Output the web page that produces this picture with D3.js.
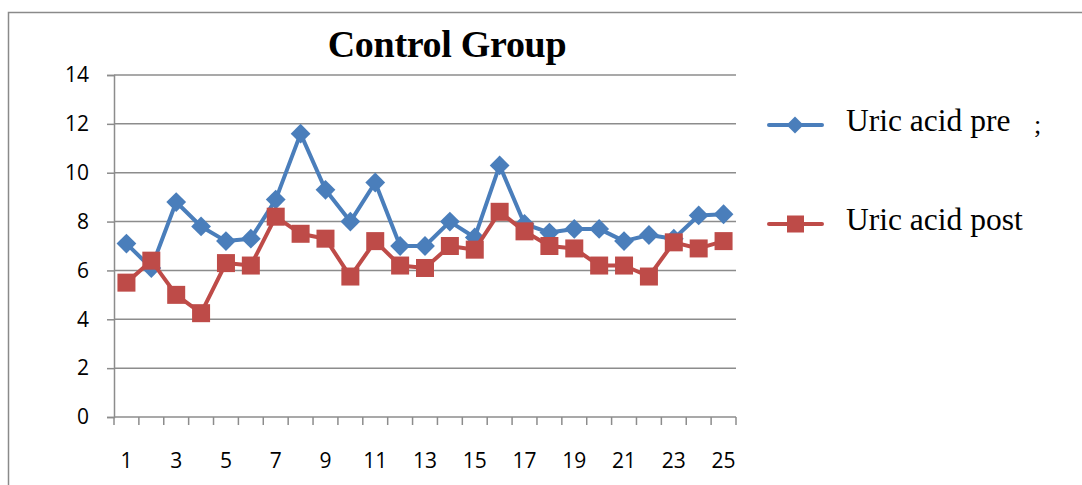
<!DOCTYPE html>
<html>
<head>
<meta charset="utf-8">
<script src="https://cdn.jsdelivr.net/npm/d3@7"></script>
<style>
  html, body { margin: 0; padding: 0; background: #fff; }
  svg { display: block; }
</style>
</head>
<body>
<svg id="chart" width="1082" height="485"></svg>
<script>
const categories = [1,2,3,4,5,6,7,8,9,10,11,12,13,14,15,16,17,18,19,20,21,22,23,24,25];
const uricPre  = [7.1,6.1,8.8,7.8,7.2,7.3,8.9,11.6,9.3,8.0,9.6,7.0,7.0,8.0,7.35,10.3,7.9,7.55,7.7,7.7,7.2,7.45,7.3,8.25,8.3];
const uricPost = [5.5,6.4,5.0,4.25,6.3,6.2,8.2,7.5,7.3,5.75,7.2,6.2,6.1,7.0,6.85,8.4,7.6,7.0,6.9,6.2,6.2,5.75,7.15,6.9,7.2];
const yTicks = [0,2,4,6,8,10,12,14];
const xLabels = [1,3,5,7,9,11,13,15,17,19,21,23,25];
const seriesNames = ["Uric acid pre", "Uric acid post"];
const seriesColors = ["#4a7ebb", "#be4b48"];

const svg = d3.select("#chart");
const gridColor = "#8c8c8c";

// outer border
svg.append("path")
  .attr("d", "M8.5,485 L8.5,12.5 L1082,12.5")
  .attr("fill", "none").attr("stroke", "#8a8a8a").attr("stroke-width", 1.5);

// title
svg.append("text")
  .attr("x", 447).attr("y", 57)
  .attr("text-anchor", "middle")
  .attr("font-family", "'Liberation Serif', 'DejaVu Serif', serif")
  .attr("font-weight", "bold")
  .attr("font-size", 38)
  .attr("letter-spacing", -0.3)
  .text("Control Group");

const x = d3.scaleBand().domain(categories).range([114, 736]);
const y = d3.scaleLinear().domain([0, 14]).range([417, 75]);

// gridlines
svg.append("g").selectAll("line").data(yTicks.filter(d => d > 0)).join("line")
  .attr("x1", 114).attr("x2", 736)
  .attr("y1", d => y(d)).attr("y2", d => y(d))
  .attr("stroke", gridColor).attr("stroke-width", 1.5);

// y axis
const yAxis = svg.append("g").attr("transform", "translate(114,0)")
  .call(d3.axisLeft(y).tickValues(yTicks).tickSize(7).tickPadding(18));
yAxis.select(".domain").attr("stroke", gridColor).attr("stroke-width", 1.5);
yAxis.selectAll(".tick line").attr("stroke", gridColor).attr("stroke-width", 1.5);
yAxis.selectAll(".tick text")
  .attr("font-family", "'Open Sans', 'Liberation Sans', sans-serif")
  .attr("font-size", 21).attr("fill", "#000");

// x axis: ticks on band boundaries
const xb = svg.append("g");
xb.append("line").attr("x1", 114).attr("x2", 736).attr("y1", y(0)).attr("y2", y(0))
  .attr("stroke", gridColor).attr("stroke-width", 1.5);
const boundaries = categories.map(c => x(c)).concat([x(categories[categories.length-1]) + x.bandwidth()]);
xb.selectAll("line.tk").data(boundaries).join("line").attr("class", "tk")
  .attr("x1", d => d).attr("x2", d => d)
  .attr("y1", y(0)).attr("y2", y(0) + 8)
  .attr("stroke", gridColor).attr("stroke-width", 1.5);
xb.selectAll("text").data(xLabels).join("text")
  .attr("x", d => x(d) + x.bandwidth() / 2)
  .attr("y", 468)
  .attr("text-anchor", "middle")
  .attr("font-family", "'Open Sans', 'Liberation Sans', sans-serif")
  .attr("font-size", 21).attr("fill", "#000")
  .text(d => d);

const cx = (d, i) => x(categories[i]) + x.bandwidth() / 2;
const line = d3.line().x((d, i) => cx(d, i)).y(d => y(d));

// pre series
svg.append("path").datum(uricPre)
  .attr("d", line).attr("fill", "none")
  .attr("stroke", seriesColors[0]).attr("stroke-width", 4).attr("stroke-linejoin", "round");
svg.append("g").selectAll("rect").data(uricPre).join("rect")
  .attr("x", -7).attr("y", -7).attr("width", 14).attr("height", 14)
  .attr("transform", (d, i) => `translate(${cx(d, i)},${y(d)}) rotate(45)`)
  .attr("fill", seriesColors[0]);

// post series
svg.append("path").datum(uricPost)
  .attr("d", line).attr("fill", "none")
  .attr("stroke", seriesColors[1]).attr("stroke-width", 4).attr("stroke-linejoin", "round");
svg.append("g").selectAll("rect").data(uricPost).join("rect")
  .attr("x", 0).attr("y", 0)
  .attr("transform", (d, i) => `translate(${cx(d, i) - 9},${y(d) - 9})`)
  .attr("width", 18).attr("height", 18)
  .attr("fill", seriesColors[1]);

// legend
const legY = [125, 224];
const leg = svg.append("g");
seriesNames.forEach((name, i) => {
  const g = leg.append("g");
  g.append("line").attr("x1", 769).attr("x2", 822).attr("y1", legY[i]).attr("y2", legY[i])
    .attr("stroke", seriesColors[i]).attr("stroke-width", 4).attr("stroke-linecap", "round");
  if (i === 0) {
    g.append("rect").attr("x", -6).attr("y", -6).attr("width", 12).attr("height", 12)
      .attr("transform", `translate(795,${legY[i]}) rotate(45)`).attr("fill", seriesColors[i]);
  } else {
    g.append("rect").attr("x", 787).attr("y", legY[i] - 8.5).attr("width", 17).attr("height", 17)
      .attr("fill", seriesColors[i]);
  }
  g.append("text").attr("x", 846).attr("y", legY[i] + 6)
    .attr("font-family", "'Liberation Serif', 'DejaVu Serif', serif")
    .attr("font-size", 31.5).attr("fill", "#000")
    .text(name);
});
leg.append("text").attr("x", 1034).attr("y", 133)
  .attr("font-family", "'Liberation Serif', serif").attr("font-size", 26).text(";");
</script>
</body>
</html>
